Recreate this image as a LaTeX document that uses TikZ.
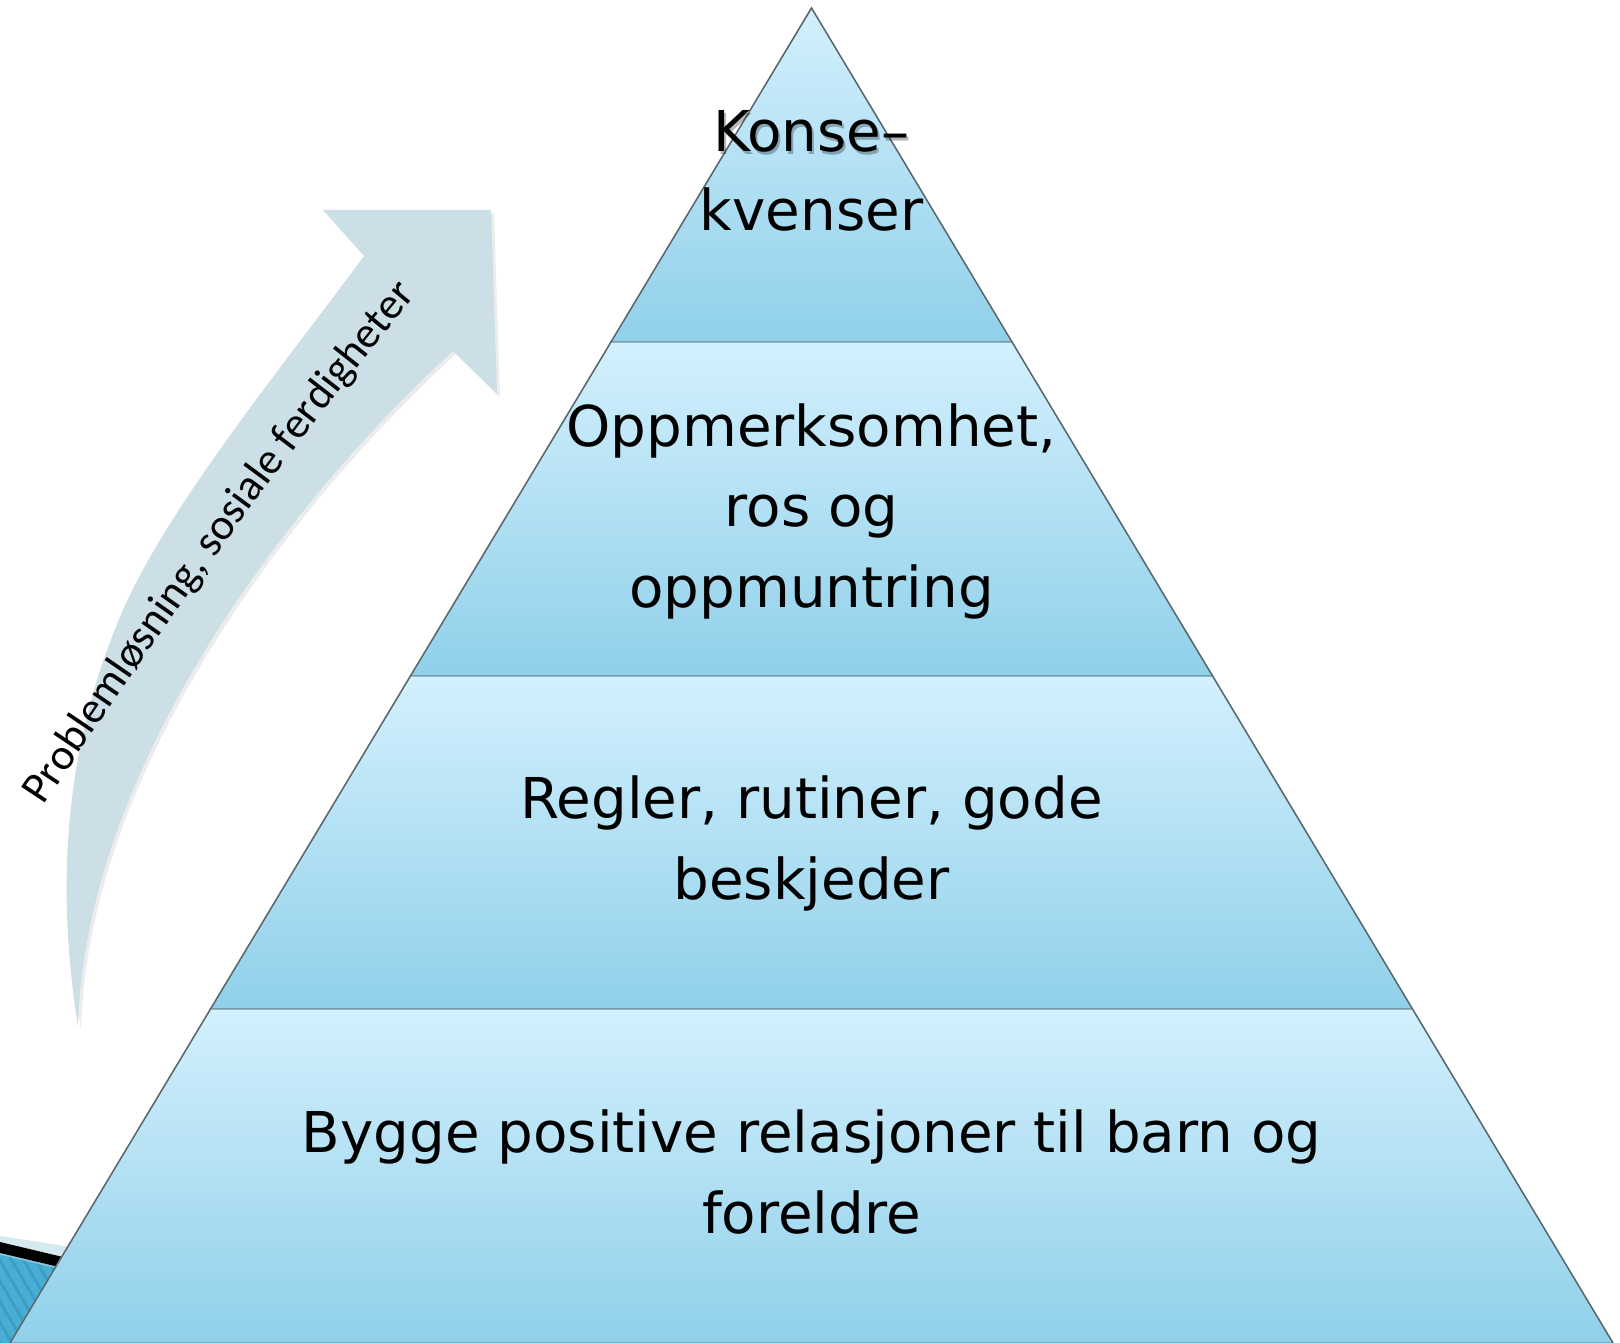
\documentclass[tikz,border=0pt]{standalone}
\usepackage{fontspec}
\setmainfont{DejaVu Sans}
\newfontfamily\arrowfont{Carlito}
\usetikzlibrary{decorations.text,shadows}
\definecolor{tierTop}{HTML}{D3F0FD}
\definecolor{tierBot}{HTML}{90D0EA}
\definecolor{edgeGray}{HTML}{5B666B}
\definecolor{sepLine}{HTML}{7396A4}
\definecolor{arrowFill}{HTML}{CCDFE6}
\definecolor{stripBlue}{HTML}{48AED3}
\definecolor{stripDark}{HTML}{3C9EC4}
\definecolor{stripLight}{HTML}{D6E9F0}
\definecolor{stripEdge}{HTML}{8CC6D8}
\tikzset{
 tier/.style={top color=tierTop, bottom color=tierBot, draw=sepLine, line width=1.4pt},
 lbl/.style={font=\fontsize{56.3}{80.5}\selectfont, anchor=base, inner sep=0pt, text=black},
 lblshadow/.style={lbl, opacity=0.28},
 arrowshape/.style={fill=arrowFill, drop shadow={opacity=0.15, shadow xshift=3pt, shadow yshift=-3pt}},
}
\begin{document}
\begin{tikzpicture}[x=1pt,y=-1pt]
\useasboundingbox (0,0) rectangle (1620,1343);
\fill[white] (0,0) rectangle (1620,1343);
% corner of a picture behind the pyramid
\fill[stripLight] (0,1236) -- (130,1256) -- (130,1273) -- (0,1242) -- cycle;
\fill[stripBlue] (0,1253) -- (130,1284) -- (130,1343) -- (0,1343) -- cycle;
\begin{scope}
\clip (0,1253) -- (130,1284) -- (130,1343) -- (0,1343) -- cycle;
\foreach \k in {-12,...,12} \draw[stripDark, line width=3pt] (\k*12,1240) -- ++(70,120);
\end{scope}
\fill[black] (0,1242) -- (130,1273) -- (130,1284) -- (0,1253) -- cycle;
\draw[stripEdge, line width=1.5pt] (0,1254) -- (130,1285);
% pyramid
\coordinate (apex) at (811.5,8);
\coordinate (l1) at (611,342);  \coordinate (r1) at (1012,342);
\coordinate (l2) at (410.4,676); \coordinate (r2) at (1212.6,676);
\coordinate (l3) at (210.5,1009); \coordinate (r3) at (1412.5,1009);
\coordinate (l4) at (10,1343);  \coordinate (r4) at (1613,1343);
\path[tier] (apex) -- (r1) -- (l1) -- cycle;
\path[tier] (l1) -- (r1) -- (r2) -- (l2) -- cycle;
\path[tier] (l2) -- (r2) -- (r3) -- (l3) -- cycle;
\path[tier] (l3) -- (r3) -- (r4) -- (l4) -- cycle;
\draw[edgeGray, line width=1.3pt] (l4) -- (apex) -- (r4);
% curved arrow
\coordinate (tail) at (78,1027);
\coordinate (nOut) at (364,256);
\coordinate (nIn) at (453,351);
\coordinate (barbL) at (323,210);
\coordinate (tip) at (491,210);
\coordinate (barbR) at (497,394);
\path[arrowshape] (tail) .. controls (58,900) and (60,760) .. (120,617)
  .. controls (165,510) and (280,370) .. (nOut)
  -- (barbL) -- (tip) -- (barbR) -- (nIn)
  .. controls (300,490) and (85,760) .. (tail) -- cycle;
\path[decorate, decoration={text along path, text align=left,
  text={|\arrowfont\fontsize{44}{53}\selectfont|Problemløsning, sosiale ferdigheter}}]
  (44,806) .. controls (140,660) and (285,452) .. (419,292) -- (470,230);
% labels
\node[lblshadow] (ks) at (813.5,155) {Konse–};
\node[lbl] (k1) at (811.5,152) {Konse–};
\node[lbl] (k2) at (811.5,231) {kvenser};
\node[lbl] (o1) at (811.5,446) {Oppmerksomhet,};
\node[lbl] (o2) at (811.5,526) {ros og};
\node[lbl] (o3) at (811.5,607) {oppmuntring};
\node[lbl] (r1t) at (811.5,818) {Regler, rutiner, gode};
\node[lbl] (r2t) at (811.5,899) {beskjeder};
\node[lbl] (b1) at (811.5,1152) {Bygge positive relasjoner til barn og};
\node[lbl] (b2) at (811.5,1233) {foreldre};
\end{tikzpicture}
\end{document}
